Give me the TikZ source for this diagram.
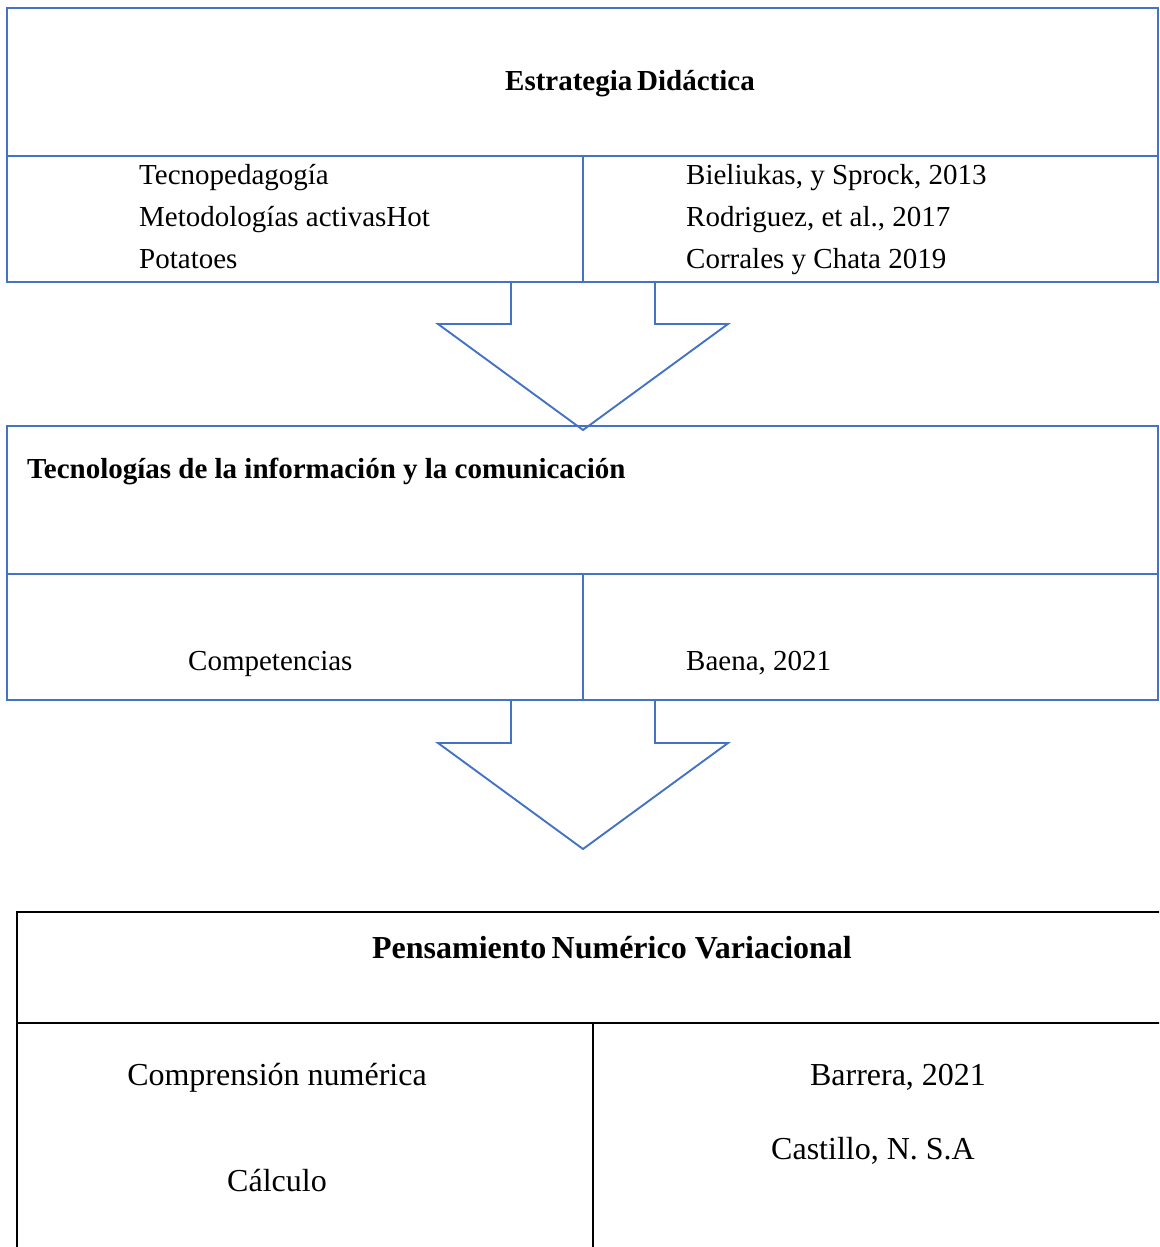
\documentclass[tikz,border=0pt]{standalone}
\usepackage{fontspec}
\setmainfont{Liberation Serif}
\definecolor{boxblue}{HTML}{4472C4}
\begin{document}
\begin{tikzpicture}[x=1pt,y=-1pt,
  bl/.style={draw=boxblue,line width=1.9pt},
  bk/.style={draw=black,line width=1.6pt},
  txt/.style={inner sep=0pt,anchor=base west,font=\fontsize{29}{35}\selectfont},
  btxt/.style={inner sep=0pt,anchor=base,font=\fontsize{29}{35}\selectfont\bfseries},
  ctxt/.style={inner sep=0pt,anchor=base,font=\fontsize{32}{38}\selectfont},
  cbtxt/.style={inner sep=0pt,anchor=base,font=\fontsize{32}{38}\selectfont\bfseries}]
\useasboundingbox (0,0) rectangle (1159,1247);
\clip (0,0) rectangle (1159,1247);
% box 1
\draw[bl] (7,8) rectangle (1158,282);
\draw[bl] (7,156) -- (1158,156);
\draw[bl] (583,156) -- (583,282);
\node[btxt] (t1) at (630,90) {Estrategia\,Didáctica};
\node[txt] (a1) at (139,184) {Tecnopedagogía};
\node[txt] (a2) at (139,226) {Metodologías activasHot};
\node[txt] (a3) at (139,268) {Potatoes};
\node[txt] (b1) at (686,184) {Bieliukas, y Sprock, 2013};
\node[txt] (b2) at (686,226) {Rodriguez, et al., 2017};
\node[txt] (b3) at (686,268) {Corrales y Chata 2019};
% arrow 1
\draw[bl,line join=miter] (511,282) -- (511,324) -- (438,324) -- (583,430) -- (728,324) -- (655,324) -- (655,282);
% box 2
\draw[bl] (7,426) rectangle (1158,700);
\draw[bl] (7,574) -- (1158,574);
\draw[bl] (583,574) -- (583,700);
\node[txt,font=\fontsize{29}{35}\selectfont\bfseries] (t2) at (27,478) {Tecnologías de la información y la comunicación};
\node[txt] (c1) at (188,670) {Competencias};
\node[txt] (d1) at (686,670) {Baena, 2021};
% arrow 2
\draw[bl,line join=miter] (511,700) -- (511,743) -- (438,743) -- (583,849) -- (728,743) -- (655,743) -- (655,700);
% box 3
\draw[bk] (1170,912) -- (17,912) -- (17,1260);
\draw[bk] (17,1023) -- (1170,1023);
\draw[bk] (593,1023) -- (593,1260);
\node[cbtxt] (t3) at (612,958) {Pensamiento\,Numérico Variacional};
\node[ctxt] (e1) at (277,1085) {Comprensión numérica};
\node[ctxt] (e2) at (277,1191) {Cálculo};
\node[ctxt] (f1) at (898,1085) {Barrera, 2021};
\node[ctxt] (f2) at (873,1159) {Castillo, N. S.A};
\end{tikzpicture}
\end{document}
